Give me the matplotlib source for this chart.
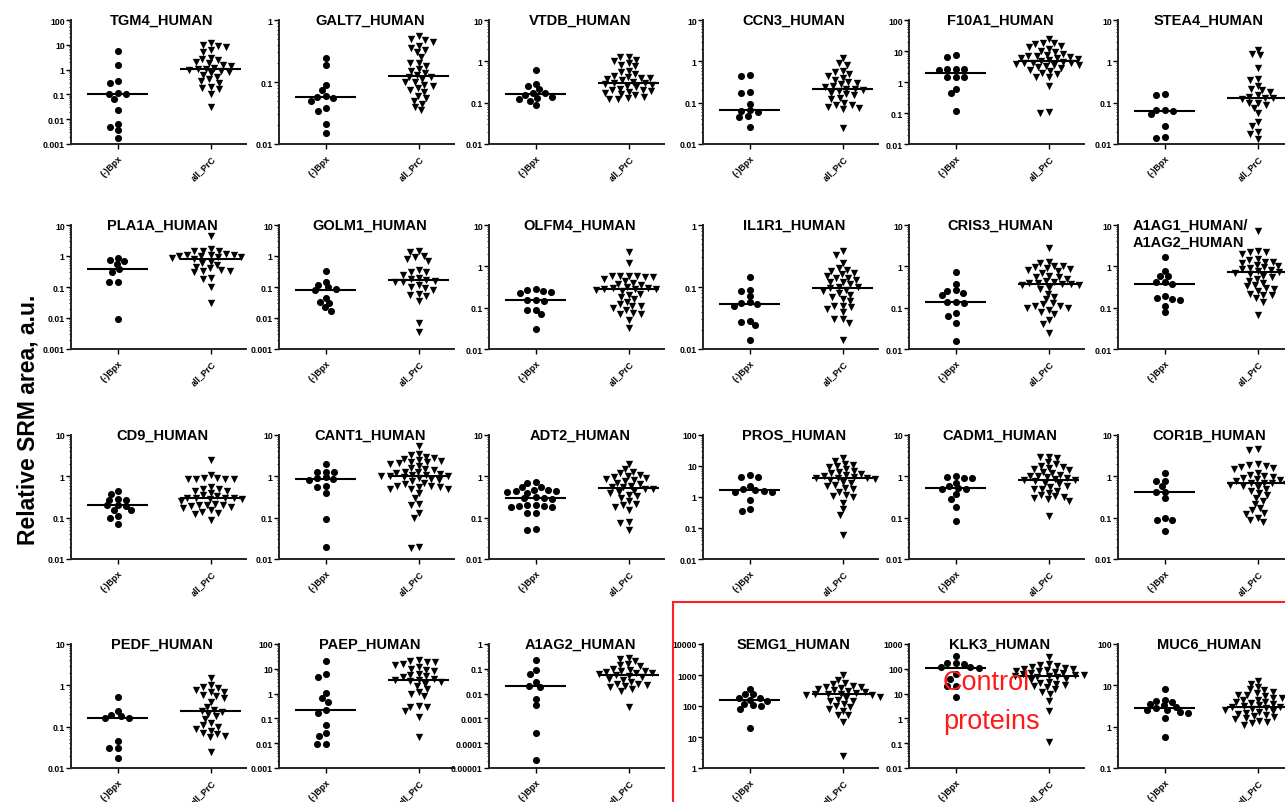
import numpy as np
import matplotlib.pyplot as plt
from matplotlib.patches import Rectangle
from matplotlib.ticker import FixedLocator, FuncFormatter, LogLocator, NullFormatter

plt.rcParams['font.family'] = ['Liberation Sans', 'DejaVu Sans']

groups = ['(-)Bpx', 'all_PrC']

# panels, row by row
proteins = ['TGM4_HUMAN', 'GALT7_HUMAN', 'VTDB_HUMAN', 'CCN3_HUMAN', 'F10A1_HUMAN', 'STEA4_HUMAN',
            'PLA1A_HUMAN', 'GOLM1_HUMAN', 'OLFM4_HUMAN', 'IL1R1_HUMAN', 'CRIS3_HUMAN',
            'A1AG1_HUMAN/\nA1AG2_HUMAN',
            'CD9_HUMAN', 'CANT1_HUMAN', 'ADT2_HUMAN', 'PROS_HUMAN', 'CADM1_HUMAN', 'COR1B_HUMAN',
            'PEDF_HUMAN', 'PAEP_HUMAN', 'A1AG2_HUMAN', 'SEMG1_HUMAN', 'KLK3_HUMAN', 'MUC6_HUMAN']

yranges = [(1e-3, 1e2), (1e-2, 1e0), (1e-2, 1e1), (1e-2, 1e1), (1e-2, 1e2), (1e-2, 1e1),
           (1e-3, 1e1), (1e-3, 1e1), (1e-2, 1e1), (1e-2, 1e0), (1e-2, 1e1), (1e-2, 1e1),
           (1e-2, 1e1), (1e-2, 1e1), (1e-2, 1e1), (1e-2, 1e2), (1e-2, 1e1), (1e-2, 1e1),
           (1e-2, 1e1), (1e-3, 1e2), (1e-5, 1e0), (1e0, 1e4), (1e-2, 1e3), (1e-1, 1e2)]

# relative SRM areas, benign biopsies
bpx = [
    [5.4, 1.5, 0.3, 0.35, 0.11, 0.1, 0.105, 0.068, 0.024, 0.005, 0.0065, 0.0037, 0.0017],
    [0.243, 0.19, 0.089, 0.074, 0.058, 0.055, 0.06, 0.05, 0.038, 0.034, 0.021, 0.015],
    [0.63, 0.28, 0.25, 0.21, 0.17, 0.17, 0.15, 0.14, 0.13, 0.12, 0.11, 0.09],
    [0.48, 0.45, 0.18, 0.17, 0.095, 0.065, 0.062, 0.06, 0.048, 0.045, 0.026],
    [7.2, 6.6, 2.7, 2.6, 2.6, 2.5, 1.5, 1.5, 1.45, 0.6, 0.43, 0.12],
    [0.16, 0.15, 0.068, 0.066, 0.063, 0.052, 0.027, 0.015, 0.014],
    [0.86, 0.72, 0.67, 0.55, 0.37, 0.3, 0.15, 0.14, 0.0095],
    [0.34, 0.145, 0.12, 0.097, 0.085, 0.082, 0.045, 0.033, 0.031, 0.022, 0.017],
    [0.29, 0.27, 0.25, 0.24, 0.23, 0.155, 0.15, 0.145, 0.09, 0.088, 0.07, 0.03],
    [0.145, 0.09, 0.087, 0.071, 0.057, 0.055, 0.053, 0.05, 0.028, 0.027, 0.024, 0.014],
    [0.74, 0.37, 0.27, 0.25, 0.23, 0.2, 0.14, 0.14, 0.13, 0.075, 0.064, 0.042, 0.016],
    [1.65, 0.78, 0.6, 0.58, 0.42, 0.42, 0.37, 0.19, 0.17, 0.16, 0.15, 0.11, 0.077],
    [0.45, 0.37, 0.28, 0.27, 0.27, 0.2, 0.2, 0.19, 0.15, 0.15, 0.11, 0.1, 0.069],
    [2.0, 1.3, 1.3, 1.25, 0.95, 0.9, 0.85, 0.8, 0.6, 0.55, 0.39, 0.092, 0.02],
    [0.71, 0.7, 0.56, 0.54, 0.47, 0.46, 0.45, 0.45, 0.42, 0.4, 0.31, 0.3, 0.3, 0.29,
     0.2, 0.2, 0.19, 0.19, 0.18, 0.18, 0.13, 0.13, 0.052, 0.05],
    [5.0, 4.5, 4.5, 2.3, 1.75, 1.7, 1.6, 1.5, 1.4, 0.8, 0.42, 0.36],
    [1.0, 0.97, 0.93, 0.92, 0.7, 0.57, 0.52, 0.5, 0.49, 0.38, 0.29, 0.185, 0.085],
    [1.2, 0.78, 0.76, 0.58, 0.42, 0.41, 0.3, 0.1, 0.088, 0.086, 0.047],
    [0.53, 0.24, 0.195, 0.18, 0.16, 0.16, 0.046, 0.03, 0.03, 0.017],
    [21, 5.9, 4.7, 1.1, 0.68, 0.47, 0.21, 0.16, 0.054, 0.027, 0.02, 0.0093, 0.0093],
    [0.23, 0.089, 0.06, 0.03, 0.021, 0.019, 0.0063, 0.0035, 0.00025, 0.000021],
    [350, 250, 240, 185, 180, 160, 150, 115, 110, 100, 80, 19],
    [330, 170, 165, 160, 120, 115, 110, 60, 40, 20, 20, 7.5],
    [8, 4.5, 4.2, 4.0, 3.5, 3.3, 3.0, 2.8, 2.6, 2.5, 2.3, 2.2, 1.65, 0.55],
]

# relative SRM areas, all prostate cancer samples
prc = [
    [12, 10, 9, 8, 6, 5, 3, 2.8, 2.5, 2, 1.8, 1.6, 1.4, 1.2, 1.1, 1.05, 1.0, 0.9, 0.8, 0.7,
     0.6, 0.5, 0.4, 0.35, 0.3, 0.2, 0.18, 0.17, 0.1, 0.03],
    [0.55, 0.5, 0.48, 0.45, 0.38, 0.35, 0.33, 0.3, 0.25, 0.2, 0.2, 0.18, 0.16, 0.15, 0.14, 0.13,
     0.12, 0.12, 0.11, 0.1, 0.1, 0.09, 0.085, 0.08, 0.075, 0.07, 0.06, 0.055, 0.05, 0.045, 0.04, 0.035],
    [1.3, 1.25, 1.1, 1.0, 0.9, 0.8, 0.75, 0.6, 0.55, 0.5, 0.45, 0.42, 0.4, 0.4, 0.38, 0.35, 0.32,
     0.3, 0.3, 0.28, 0.27, 0.25, 0.24, 0.22, 0.2, 0.2, 0.19, 0.18, 0.17, 0.16, 0.15, 0.14, 0.13, 0.12, 0.12],
    [1.2, 0.9, 0.8, 0.6, 0.55, 0.5, 0.45, 0.4, 0.35, 0.32, 0.3, 0.28, 0.25, 0.24, 0.22, 0.21, 0.2,
     0.19, 0.17, 0.16, 0.15, 0.13, 0.12, 0.1, 0.09, 0.09, 0.08, 0.075, 0.07, 0.025],
    [25, 18, 18, 17, 15, 13, 12, 10, 9, 8, 7.5, 7, 7, 6.5, 6, 6, 5.5, 5, 4.8, 4.5, 4.2, 4, 4, 3.8,
     3.6, 3.5, 3.2, 3, 2.8, 2.5, 2.2, 2, 1.8, 1.5, 1.4, 0.75, 0.11, 0.1],
    [1.9, 1.5, 1.4, 0.7, 0.38, 0.35, 0.26, 0.22, 0.2, 0.18, 0.15, 0.14, 0.13, 0.13, 0.12, 0.1, 0.1,
     0.09, 0.075, 0.055, 0.035, 0.028, 0.02, 0.017, 0.013],
    [4.5, 1.7, 1.5, 1.5, 1.4, 1.2, 1.1, 1.1, 1.05, 1.0, 1.0, 0.95, 0.9, 0.85, 0.8, 0.65, 0.6, 0.5,
     0.45, 0.4, 0.35, 0.33, 0.32, 0.3, 0.2, 0.18, 0.1, 0.03],
    [1.4, 1.3, 1.0, 0.9, 0.8, 0.7, 0.35, 0.3, 0.3, 0.25, 0.2, 0.18, 0.17, 0.16, 0.15, 0.14, 0.12,
     0.1, 0.09, 0.08, 0.06, 0.055, 0.05, 0.035, 0.007, 0.0035],
    [2.2, 1.2, 0.6, 0.6, 0.6, 0.58, 0.55, 0.55, 0.5, 0.45, 0.4, 0.38, 0.35, 0.32, 0.3, 0.3, 0.29,
     0.28, 0.28, 0.27, 0.25, 0.22, 0.2, 0.18, 0.16, 0.14, 0.12, 0.11, 0.11, 0.1, 0.09, 0.075,
     0.07, 0.072, 0.05, 0.033],
    [0.38, 0.33, 0.24, 0.2, 0.19, 0.18, 0.17, 0.16, 0.15, 0.14, 0.14, 0.13, 0.12, 0.12, 0.11, 0.1,
     0.1, 0.095, 0.09, 0.085, 0.08, 0.075, 0.07, 0.065, 0.06, 0.05, 0.05, 0.048, 0.045, 0.04, 0.03,
     0.03, 0.026, 0.014],
    [2.8, 1.25, 1.2, 1.0, 1.0, 0.95, 0.9, 0.85, 0.8, 0.75, 0.7, 0.6, 0.55, 0.55, 0.5, 0.45, 0.42,
     0.4, 0.4, 0.38, 0.38, 0.36, 0.35, 0.3, 0.28, 0.22, 0.18, 0.16, 0.13, 0.12, 0.11, 0.11, 0.1,
     0.1, 0.09, 0.08, 0.07, 0.05, 0.04, 0.025],
    [7, 2.4, 2.2, 2.0, 2.2, 1.5, 1.4, 1.3, 1.3, 1.2, 1.1, 1.0, 0.95, 0.9, 0.85, 0.8, 0.75, 0.72,
     0.7, 0.65, 0.6, 0.55, 0.5, 0.45, 0.4, 0.35, 0.33, 0.3, 0.28, 0.25, 0.22, 0.2, 0.2, 0.17,
     0.14, 0.065],
    [2.5, 1.1, 0.9, 0.9, 0.85, 0.85, 0.85, 0.85, 0.55, 0.5, 0.5, 0.45, 0.45, 0.4, 0.35, 0.33, 0.3,
     0.3, 0.3, 0.3, 0.28, 0.28, 0.25, 0.22, 0.2, 0.2, 0.2, 0.19, 0.18, 0.17, 0.15, 0.14, 0.13,
     0.12, 0.09],
    [5.5, 3.5, 3.2, 3.0, 2.8, 2.7, 2.5, 2.3, 2.2, 2.2, 2.1, 2.0, 1.8, 1.6, 1.5, 1.4, 1.3, 1.3, 1.2,
     1.15, 1.1, 1.05, 1.0, 1.0, 1.0, 0.95, 0.9, 0.85, 0.8, 0.75, 0.7, 0.65, 0.6, 0.6, 0.55, 0.55,
     0.5, 0.5, 0.5, 0.4, 0.3, 0.22, 0.2, 0.13, 0.1, 0.02, 0.018],
    [2.0, 1.5, 1.3, 1.2, 1.1, 1.0, 0.95, 0.9, 0.85, 0.8, 0.75, 0.7, 0.65, 0.6, 0.55, 0.55, 0.5,
     0.5, 0.45, 0.42, 0.4, 0.35, 0.33, 0.3, 0.25, 0.22, 0.2, 0.18, 0.15, 0.08, 0.075, 0.05],
    [18, 15, 12, 11, 10, 9, 8, 7, 6.5, 6, 5.5, 5, 4.8, 4.5, 4.2, 4.0, 4.0, 3.8, 3.5, 3.0, 2.8, 2.5,
     2.2, 2.0, 1.8, 1.5, 1.2, 1.1, 1.0, 0.65, 0.4, 0.27, 0.06],
    [3.0, 3.0, 2.8, 2.2, 2.0, 1.8, 1.7, 1.6, 1.5, 1.4, 1.3, 1.2, 1.1, 1.0, 1.0, 0.95, 0.9, 0.85,
     0.8, 0.8, 0.75, 0.7, 0.65, 0.6, 0.55, 0.5, 0.5, 0.45, 0.4, 0.35, 0.33, 0.32, 0.3, 0.28,
     0.25, 0.11],
    [4.5, 4.3, 2.0, 1.9, 1.8, 1.7, 1.6, 1.5, 1.2, 1.1, 1.0, 0.95, 0.9, 0.85, 0.8, 0.75, 0.7, 0.7,
     0.68, 0.65, 0.62, 0.6, 0.55, 0.5, 0.45, 0.4, 0.35, 0.3, 0.25, 0.22, 0.17, 0.15, 0.13, 0.12,
     0.1, 0.09, 0.08],
    [1.5, 1.0, 0.9, 0.85, 0.75, 0.7, 0.7, 0.6, 0.55, 0.5, 0.4, 0.3, 0.25, 0.24, 0.23, 0.2, 0.18,
     0.15, 0.12, 0.11, 0.1, 0.09, 0.08, 0.07, 0.065, 0.06, 0.055, 0.024],
    [22, 20, 19, 18, 15, 14, 12, 10, 9, 8, 6, 5.5, 5, 4.5, 4, 3.5, 3.5, 3.2, 3, 2.5, 2, 1.5, 1.2,
     1.0, 0.8, 0.32, 0.3, 0.28, 0.2, 0.11, 0.018],
    [0.28, 0.25, 0.2, 0.15, 0.14, 0.13, 0.1, 0.09, 0.085, 0.08, 0.075, 0.07, 0.065, 0.06, 0.055,
     0.05, 0.045, 0.04, 0.035, 0.03, 0.025, 0.024, 0.022, 0.02, 0.018, 0.015, 0.013, 0.003],
    [1000, 700, 550, 500, 450, 420, 400, 380, 350, 320, 300, 280, 260, 250, 240, 240, 230, 220,
     200, 180, 160, 150, 140, 120, 100, 90, 80, 70, 50, 50, 30, 2.5],
    [300, 150, 140, 130, 120, 110, 100, 95, 90, 85, 80, 75, 70, 65, 60, 58, 55, 52, 50, 48, 45,
     40, 35, 30, 28, 25, 22, 20, 18, 15, 12, 10, 5, 2, 0.11],
    [13, 11, 9, 8, 7.5, 7, 6.5, 6, 6, 5.5, 5, 5, 4.5, 4.5, 4, 4, 3.8, 3.5, 3.3, 3.1, 3.0, 3.0,
     2.9, 2.8, 2.7, 2.6, 2.5, 2.4, 2.3, 2.2, 2.0, 1.9, 1.8, 1.7, 1.6, 1.5, 1.4, 1.3, 1.2, 1.1],
]

W, H = 1285, 803
col_left = [71, 279, 489, 703, 909, 1118]
row_top = [21, 226, 436, 645]
ax_w, ax_h = 175, 124
x_lo, x_hi = -0.5, 1.38


def swarm(vals, px_per_dec, dx_min=8.4, dy_min=5.6):
    """beeswarm offsets (x data units); points may stack closer vertically than sideways"""
    px_per_x = ax_w / (x_hi - x_lo)
    ys = np.log10(np.asarray(vals, dtype=float)) * px_per_dec * dx_min / dy_min
    d = dx_min
    placed = []
    xs = np.zeros(len(ys))
    for i in np.argsort(-ys, kind='stable'):
        y = ys[i]
        cands = [0.0]
        for px, py in placed:
            dy = abs(py - y)
            if dy < d:
                dx = np.sqrt(d * d - dy * dy)
                cands += [px + dx, px - dx]
        for c in sorted(cands, key=lambda v: (round(abs(v), 3), v)):
            if all((c - px) ** 2 + (y - py) ** 2 >= d * d - 1e-6 for px, py in placed):
                break
        xs[i] = c
        placed.append((c, y))
    return xs / px_per_x


def dec_fmt(v, pos):
    s = f'{v:.6f}'.rstrip('0').rstrip('.')
    return s


fig = plt.figure(figsize=(W / 100, H / 100), dpi=100)

for k, name in enumerate(proteins):
    r, c = divmod(k, 6)
    ax = fig.add_axes([col_left[c] / W, 1 - (row_top[r] + ax_h) / H, ax_w / W, ax_h / H])
    lo, hi = yranges[k]
    ax.set_yscale('log')
    ax.set_ylim(lo, hi)
    ax.set_xlim(x_lo, x_hi)
    ppd = ax_h / np.log10(hi / lo)

    for g, (vals, mk, size) in enumerate([(bpx[k], 'o', 26), (prc[k], 'v', 28)]):
        xo = swarm(vals, ppd)
        ax.scatter(g + xo, vals, marker=mk, s=size, color='black', linewidths=0, zorder=3,
                   clip_on=False)
        ax.hlines(np.median(vals), g - 0.33, g + 0.33, color='black', lw=1.5, zorder=4)

    decades = 10.0 ** np.arange(round(np.log10(lo)), round(np.log10(hi)) + 1)
    ax.yaxis.set_major_locator(FixedLocator(decades))
    ax.yaxis.set_major_formatter(FuncFormatter(dec_fmt))
    ax.yaxis.set_minor_locator(LogLocator(base=10, subs=np.arange(2, 10)))
    ax.yaxis.set_minor_formatter(NullFormatter())
    ax.tick_params(axis='y', which='major', length=3.5, width=1.0, pad=1, labelsize=6.3)
    ax.tick_params(axis='y', which='minor', length=1.8, width=0.6)
    ax.tick_params(axis='x', length=3.5, width=1.0, pad=3)
    for lab in ax.get_yticklabels():
        lab.set_fontweight('bold')

    ax.set_xticks([0, 1])
    ax.set_xticklabels(groups, rotation=45, ha='right', va='top', rotation_mode='anchor',
                       fontsize=6.5, fontweight='bold')

    for side in ['top', 'right']:
        ax.spines[side].set_visible(False)
    for side in ['left', 'bottom']:
        ax.spines[side].set_linewidth(1.4)
        ax.spines[side].set_color('#222222')

    lines = name.split('\n')
    if len(lines) == 1:
        ax.text(0.52, 1.0, name, transform=ax.transAxes, ha='center', va='center',
                fontsize=10.5, fontweight='bold')
    else:
        for j, ln in enumerate(lines):
            ax.annotate(ln, xy=(15 / ax_w, 1.0), xycoords='axes fraction',
                        xytext=(0, -12.2 * j), textcoords='offset points',
                        ha='left', va='center', fontsize=10.5, fontweight='bold')

fig.text(28 / W, 1 - 420 / H, 'Relative SRM area, a.u.', rotation=90, ha='center', va='center',
         fontsize=16.5, fontweight='bold')

# control proteins box
fig.add_artist(Rectangle((673 / W, -0.05), 0.5, 1.05 - 603 / H, transform=fig.transFigure,
                         fill=False, edgecolor='#ff2020', lw=1.5))
fig.text(943 / W, 1 - 683 / H, 'Control', color='#ff1a1a', fontsize=19.5, ha='left', va='center')
fig.text(943 / W, 1 - 722 / H, 'proteins', color='#ff1a1a', fontsize=19.5, ha='left', va='center')

fig.savefig('out.png', dpi=100)
